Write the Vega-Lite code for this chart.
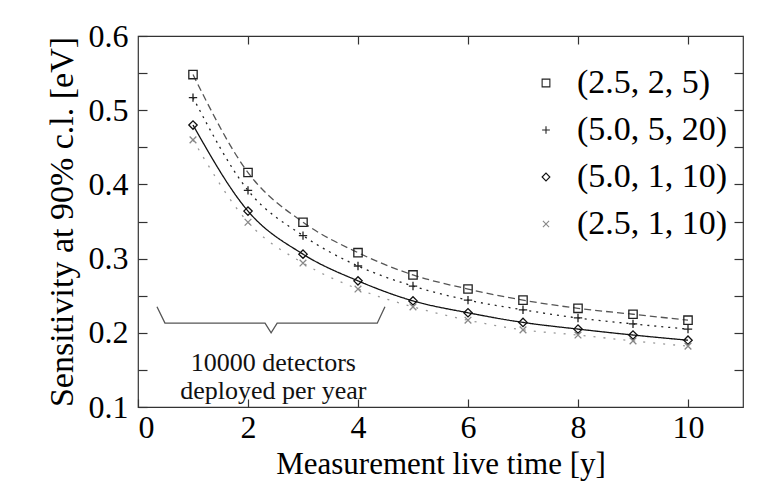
{
  "$schema": "https://vega.github.io/schema/vega-lite/v6.json",
  "autosize": "none",
  "width": 605,
  "height": 371,
  "padding": {"left": 138, "top": 36, "right": 30, "bottom": 89},
  "background": "white",
  "config": {
    "font": "Liberation Serif",
    "view": {"stroke": "#333", "strokeWidth": 1.2},
    "axis": {"domain": false, "grid": false, "tickColor": "#333", "tickWidth": 1.2, "labelColor": "black", "titleColor": "black", "labelFont": "Liberation Serif", "titleFont": "Liberation Serif", "labelFontSize": 32, "titleFontSize": 31, "titleFontWeight": "normal"},
    "legend": {"labelFont": "Liberation Serif"}
  },
  "datasets": {
    "curves": [
      {"series": "(2.5, 2, 5)", "t": 1, "s": 0.548},
      {"series": "(2.5, 2, 5)", "t": 2, "s": 0.416},
      {"series": "(2.5, 2, 5)", "t": 3, "s": 0.349},
      {"series": "(2.5, 2, 5)", "t": 4, "s": 0.308},
      {"series": "(2.5, 2, 5)", "t": 5, "s": 0.278},
      {"series": "(2.5, 2, 5)", "t": 6, "s": 0.259},
      {"series": "(2.5, 2, 5)", "t": 7, "s": 0.244},
      {"series": "(2.5, 2, 5)", "t": 8, "s": 0.233},
      {"series": "(2.5, 2, 5)", "t": 9, "s": 0.225},
      {"series": "(2.5, 2, 5)", "t": 10, "s": 0.217},
      {"series": "(5.0, 5, 20)", "t": 1, "s": 0.517},
      {"series": "(5.0, 5, 20)", "t": 2, "s": 0.392},
      {"series": "(5.0, 5, 20)", "t": 3, "s": 0.331},
      {"series": "(5.0, 5, 20)", "t": 4, "s": 0.290},
      {"series": "(5.0, 5, 20)", "t": 5, "s": 0.263},
      {"series": "(5.0, 5, 20)", "t": 6, "s": 0.244},
      {"series": "(5.0, 5, 20)", "t": 7, "s": 0.231},
      {"series": "(5.0, 5, 20)", "t": 8, "s": 0.220},
      {"series": "(5.0, 5, 20)", "t": 9, "s": 0.212},
      {"series": "(5.0, 5, 20)", "t": 10, "s": 0.205},
      {"series": "(5.0, 1, 10)", "t": 1, "s": 0.480},
      {"series": "(5.0, 1, 10)", "t": 2, "s": 0.364},
      {"series": "(5.0, 1, 10)", "t": 3, "s": 0.306},
      {"series": "(5.0, 1, 10)", "t": 4, "s": 0.270},
      {"series": "(5.0, 1, 10)", "t": 5, "s": 0.243},
      {"series": "(5.0, 1, 10)", "t": 6, "s": 0.227},
      {"series": "(5.0, 1, 10)", "t": 7, "s": 0.214},
      {"series": "(5.0, 1, 10)", "t": 8, "s": 0.205},
      {"series": "(5.0, 1, 10)", "t": 9, "s": 0.197},
      {"series": "(5.0, 1, 10)", "t": 10, "s": 0.190},
      {"series": "(2.5, 1, 10)", "t": 1, "s": 0.460},
      {"series": "(2.5, 1, 10)", "t": 2, "s": 0.349},
      {"series": "(2.5, 1, 10)", "t": 3, "s": 0.294},
      {"series": "(2.5, 1, 10)", "t": 4, "s": 0.259},
      {"series": "(2.5, 1, 10)", "t": 5, "s": 0.235},
      {"series": "(2.5, 1, 10)", "t": 6, "s": 0.217},
      {"series": "(2.5, 1, 10)", "t": 7, "s": 0.204},
      {"series": "(2.5, 1, 10)", "t": 8, "s": 0.197},
      {"series": "(2.5, 1, 10)", "t": 9, "s": 0.189},
      {"series": "(2.5, 1, 10)", "t": 10, "s": 0.182}
    ],
    "brace": [
      {"k": 1, "t": 0.345, "s": 0.235},
      {"k": 2, "t": 0.49, "s": 0.213},
      {"k": 3, "t": 2.31, "s": 0.213},
      {"k": 4, "t": 2.42, "s": 0.200},
      {"k": 5, "t": 2.53, "s": 0.213},
      {"k": 6, "t": 4.35, "s": 0.213},
      {"k": 7, "t": 4.49, "s": 0.235}
    ],
    "notes": [
      {"label": "10000 detectors\ndeployed per year", "t": 2.46, "s": 0.159}
    ]
  },
  "layer": [
    {
      "data": {"name": "curves"},
      "mark": {"type": "line", "interpolate": "monotone", "strokeWidth": 1.3},
      "encoding": {
        "x": {"field": "t", "type": "quantitative", "scale": {"domain": [0, 11], "nice": false, "zero": false},
              "axis": {"orient": "bottom", "values": [0, 2, 4, 6, 8, 10], "format": "d", "tickSize": -8, "labelPadding": 13, "title": "Measurement live time [y]", "titlePadding": 6}},
        "y": {"field": "s", "type": "quantitative", "scale": {"domain": [0.1, 0.6], "nice": false, "zero": false},
              "axis": {"orient": "left", "values": [0.1, 0.15, 0.2, 0.25, 0.3, 0.35, 0.4, 0.45, 0.5, 0.55, 0.6], "labelExpr": "round(datum.value*20) % 2 == 0 ? format(datum.value, '.1f') : ''", "tickSize": -9, "labelPadding": 19, "title": "Sensitivity at 90% c.l. [eV]", "titleFontSize": 34, "titlePadding": 9}},
        "stroke": {"field": "series", "type": "nominal", "legend": null,
                  "scale": {"range": ["#999999", "#555555", "#111111", "#222222"]}},
        "strokeDash": {"field": "series", "type": "nominal", "legend": null,
                  "scale": {"range": [[2, 8], [7, 4], [1, 0], [2, 5]]}}
      }
    },
    {
      "data": {"name": "curves"},
      "mark": {"type": "point", "filled": false, "strokeWidth": 1.3, "opacity": 1, "size": 70},
      "encoding": {
        "x": {"field": "t", "type": "quantitative", "scale": {"domain": [0, 11], "nice": false, "zero": false},
              "axis": {"orient": "top", "values": [2, 4, 6, 8, 10], "labels": false, "title": null, "tickSize": -8}},
        "y": {"field": "s", "type": "quantitative", "scale": {"domain": [0.1, 0.6], "nice": false, "zero": false},
              "axis": {"orient": "right", "values": [0.15, 0.2, 0.25, 0.3, 0.35, 0.4, 0.45, 0.5, 0.55], "labels": false, "title": null, "tickSize": -9}},
        "shape": {"field": "series", "type": "nominal",
                  "scale": {"domain": ["(2.5, 2, 5)", "(5.0, 5, 20)", "(5.0, 1, 10)", "(2.5, 1, 10)"], "range": ["square", "M-1,0H1M0,-1V1", "diamond", "M-0.8,-0.8L0.8,0.8M-0.8,0.8L0.8,-0.8"]},
                  "legend": {"orient": "none", "legendX": 391, "legendY": 30, "title": null, "labelFontSize": 34, "labelColor": "black", "symbolSize": 60, "symbolStrokeWidth": 1.1, "rowPadding": 13, "labelOffset": 14, "padding": 0}},
        "color": {"field": "series", "type": "nominal",
                  "scale": {"domain": ["(2.5, 2, 5)", "(5.0, 5, 20)", "(5.0, 1, 10)", "(2.5, 1, 10)"], "range": ["#222222", "#222222", "#111111", "#888888"]},
                  "legend": {"orient": "none", "legendX": 391, "legendY": 30, "title": null, "labelFontSize": 34, "labelColor": "black", "symbolSize": 60, "symbolStrokeWidth": 1.1, "rowPadding": 13, "labelOffset": 14, "padding": 0}}
      }
    },
    {
      "data": {"name": "brace"},
      "mark": {"type": "line", "color": "#555555", "strokeWidth": 1.3},
      "encoding": {
        "x": {"field": "t", "type": "quantitative", "scale": {"domain": [0, 11], "nice": false, "zero": false}, "axis": null},
        "y": {"field": "s", "type": "quantitative", "scale": {"domain": [0.1, 0.6], "nice": false, "zero": false}, "axis": null},
        "order": {"field": "k", "type": "quantitative"}
      }
    },
    {
      "data": {"name": "notes"},
      "mark": {"type": "text", "fontSize": 26, "font": "Liberation Serif", "color": "#111111", "align": "center", "baseline": "middle", "lineBreak": "\n", "lineHeight": 28},
      "encoding": {
        "x": {"field": "t", "type": "quantitative", "scale": {"domain": [0, 11], "nice": false, "zero": false}, "axis": null},
        "y": {"field": "s", "type": "quantitative", "scale": {"domain": [0.1, 0.6], "nice": false, "zero": false}, "axis": null},
        "text": {"field": "label"}
      }
    }
  ],
  "resolve": {"axis": {"x": "independent", "y": "independent"}}
}
